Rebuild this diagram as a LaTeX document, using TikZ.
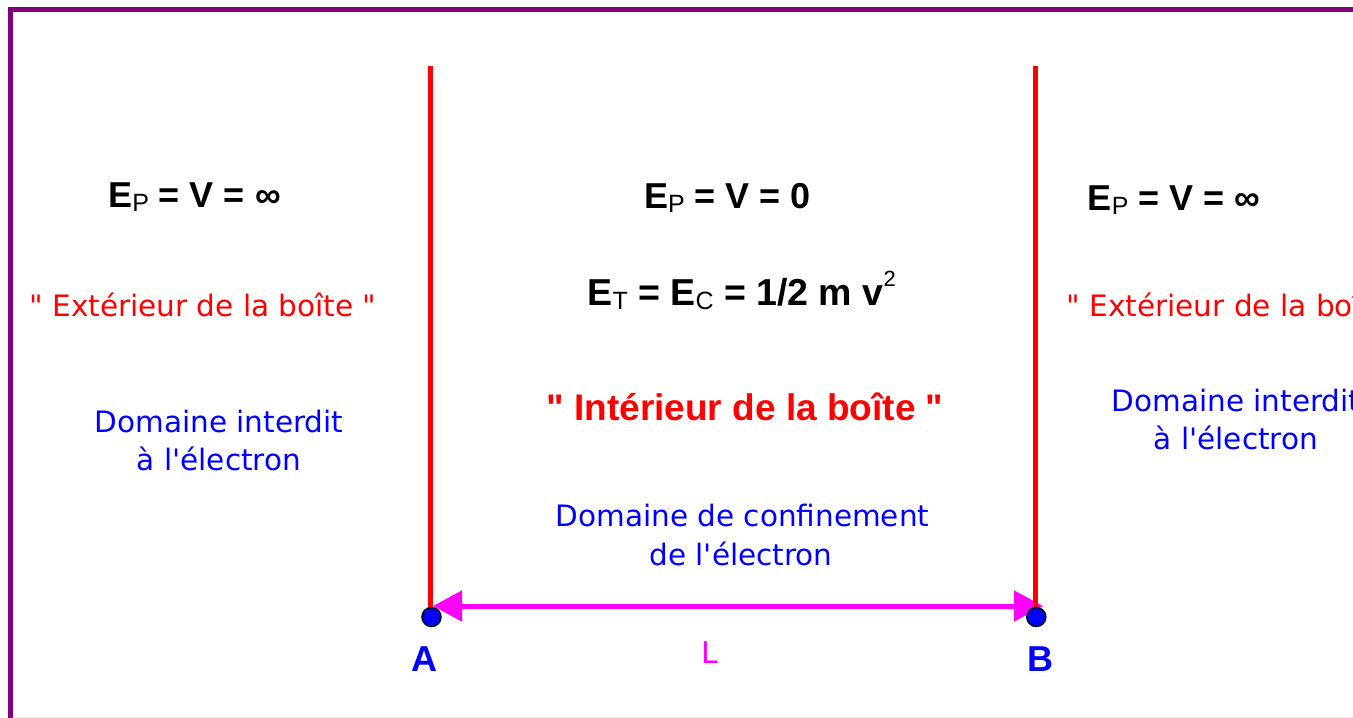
\documentclass[tikz,border=0pt]{standalone}
\usepackage{fontspec}
\newfontfamily\libfont{Liberation Sans}
\newfontfamily\dvfont{DejaVu Sans}
\usetikzlibrary{arrows.meta}
\definecolor{framepurple}{HTML}{800080}
\definecolor{wallred}{HTML}{FF0000}
\definecolor{pureblue}{HTML}{0000FF}
\definecolor{puremagenta}{HTML}{FF00FF}
\newcommand{\mysubscr}[1]{\raisebox{-4.5pt}{\fontsize{25}{25}\selectfont\mdseries #1}}
\newcommand{\mysupscr}[1]{\raisebox{19pt}{\fontsize{22}{22}\selectfont\mdseries #1}}
\newcommand{\dq}{\symbol{34}}
\tikzset{
  txt/.style={inner sep=0pt, outer sep=0pt, anchor=base},
  eqn/.style={txt, text=black, font=\libfont\fontsize{36}{40}\selectfont\bfseries},
  redtxt/.style={txt, text=wallred, font=\dvfont\fontsize{29.5}{36}\selectfont},
  bluetxt/.style={txt, text=pureblue, font=\dvfont\fontsize{29.5}{36}\selectfont},
  redbold/.style={txt, text=wallred, font=\libfont\fontsize{37}{40}\selectfont\bfseries},
  ptlabel/.style={txt, text=pureblue, font=\libfont\fontsize{36}{40}\selectfont\bfseries},
  wall/.style={draw=wallred, line width=5pt},
  dot/.style={circle, fill=pureblue, draw=black, line width=1.5pt, minimum size=19pt, inner sep=0pt},
  dimarrow/.style={draw=puremagenta, line width=5pt,
    arrows={Triangle[length=29pt,width=30pt]-Triangle[length=29pt,width=30pt]}},
  frameline/.style={draw=framepurple, line width=5pt}
}
\begin{document}
\begin{tikzpicture}[x=1pt,y=-1pt]
\clip (0,0) rectangle (1353,718);
\fill[white] (0,0) rectangle (1353,718);
% frame
\draw[black!9, line width=1pt] (12,717.5) -- (1353,717.5);
\draw[frameline] (10,720) -- (10,9) -- (1360,9);
% key positions
\coordinate (pA) at (431.5,617);
\coordinate (pB) at (1036.3,617);
\coordinate (wallAtop) at (430.5,66);
\coordinate (wallBtop) at (1035.5,66);
\coordinate (arrL) at (433,606);
\coordinate (arrR) at (1043,606);
% length arrow
\draw[dimarrow] (arrL) -- (arrR);
% walls
\draw[wall] (wallAtop) -- (wallAtop |- pA);
\draw[wall] (wallBtop) -- (wallBtop |- pB);
% points
\node[dot] (A) at (pA) {};
\node[dot] (B) at (pB) {};
\node[ptlabel] (labA) at (424.5,671) {A};
\node[ptlabel] (labB) at (1040.5,671) {B};
\node[txt, text=puremagenta, font=\dvfont\fontsize{30}{36}\selectfont] (labL) at (709.5,663.3) {L};
% left region
\node[eqn] (epL) at (194.5,207) {E\mysubscr{P} = V = ∞};
\node[redtxt] (extL) at (203,316.7) {\dq{} Extérieur de la boîte \dq};
\node[bluetxt] (domL1) at (219,432.7) {Domaine interdit};
\node[bluetxt] (domL2) at (219,470) {à l'électron};
% centre region
\node[eqn] (epC) at (727.5,208) {E\mysubscr{P} = V = 0};
\node[eqn, font=\libfont\fontsize{37.5}{40}\selectfont\bfseries] (etC) at (741.7,305) {E\mysubscr{T} = E\mysubscr{C} = 1/2 m v\mysupscr{2}};
\node[redbold] (intC) at (745,420) {\dq{} Intérieur de la boîte \dq};
\node[bluetxt] (domC1) at (742.5,526) {Domaine de confinement};
\node[bluetxt] (domC2) at (741,565) {de l'électron};
% right region (cut off by the picture's right edge, as in the original)
\node[eqn] (epR) at (1174,210) {E\mysubscr{P} = V = ∞};
\node[redtxt, anchor=base west] (extR) at (1066.7,316.7) {\dq{} Extérieur de la boîte \dq};
\node[bluetxt] (domR1) at (1236,411.7) {Domaine interdit};
\node[bluetxt] (domR2) at (1236,449.3) {à l'électron};
\end{tikzpicture}
\end{document}
